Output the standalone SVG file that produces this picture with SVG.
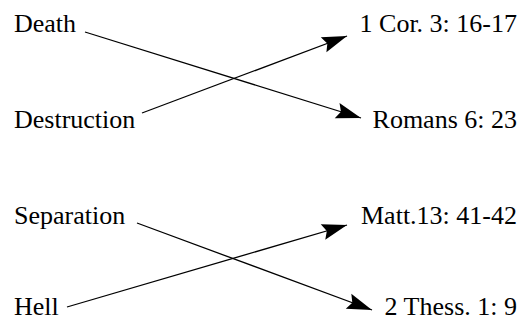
<svg xmlns="http://www.w3.org/2000/svg" width="531" height="323" viewBox="0 0 531 323">
<style>
text{font-family:"Liberation Serif","Times New Roman",serif;font-size:26px;fill:#000}
.r{text-anchor:end}
.c line{stroke:#000;stroke-width:1.3;marker-end:url(#ah)}
</style>
<defs>
<marker id="ah" markerUnits="userSpaceOnUse" markerWidth="32" markerHeight="24" viewBox="-28 -12 32 24" refX="0" refY="0" orient="auto">
<path d="M0,0 L-25,-8 L-21,0 L-25,8 Z" fill="#000"/>
</marker>
</defs>
<rect width="531" height="323" fill="#fff"/>
<g id="death"><text x="14" y="32">Death</text></g>
<g id="destruction"><text x="14" y="128">Destruction</text></g>
<g id="separation"><text x="14" y="224">Separation</text></g>
<g id="hell"><text x="14" y="315">Hell</text></g>
<g id="cor"><text class="r" x="517" y="32">1 Cor. 3: 16-17</text></g>
<g id="romans"><text class="r" x="517" y="128">Romans 6: 23</text></g>
<g id="matt"><text class="r" x="517" y="224">Matt.13: 41-42</text></g>
<g id="thess"><text class="r" x="517" y="315">2 Thess. 1: 9</text></g>
<g id="connectors" class="c">
<line x1="85" y1="32" x2="361" y2="118"/>
<line x1="142" y1="113" x2="347" y2="36"/>
<line x1="137" y1="223" x2="372" y2="310"/>
<line x1="67" y1="307" x2="347" y2="225"/>
</g>
</svg>
